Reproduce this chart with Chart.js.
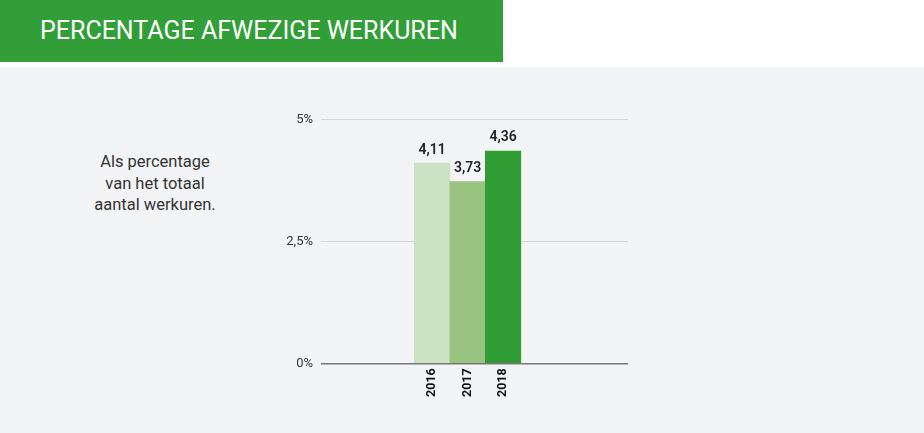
<!DOCTYPE html>
<html>
<head>
<meta charset="utf-8">
<script src="https://cdn.jsdelivr.net/npm/chart.js@4.4.0/dist/chart.umd.min.js"></script>
<style>
  html,body{margin:0;padding:0;}
  body{width:924px;height:433px;background:#f3f4f6;position:relative;overflow:hidden;font-family:Roboto,"Open Sans",sans-serif;}
  .top{position:absolute;left:0;top:0;width:924px;height:67px;background:#fff;}
  .title{position:absolute;left:0;top:0;width:503px;height:62px;background:#329e37;color:#fff;
    font-size:25px;font-weight:400;line-height:62px;box-sizing:border-box;padding-left:40px;letter-spacing:0;}
  .note{position:absolute;left:55px;top:151px;width:200px;text-align:center;color:#333;font-size:16.5px;line-height:21.5px;}
  .wrap{position:absolute;left:255px;top:104px;width:380px;height:298px;}
</style>
</head>
<body>
<div class="top"></div>
<div class="title">PERCENTAGE AFWEZIGE WERKUREN</div>
<div class="note">Als percentage<br>van het totaal<br>aantal werkuren.</div>
<div class="wrap"><canvas id="chart"></canvas></div>
<script>
/* =========================
   Data
========================= */
const years  = ['2016','2017','2018'];
const values = [4.11, 3.73, 4.36];
const colors = ['#cde2c3','#99c47f','#309c34'];
const yTicks = [0, 2.5, 5];

function fmtNum(v){ return String(v).replace('.', ','); }

/* value labels above bars */
const valueLabels = {
  id:'valueLabels',
  afterDatasetsDraw(chart){
    const ctx = chart.ctx;
    const meta = chart.getDatasetMeta(0);
    ctx.save();
    ctx.font = '600 14px Roboto, sans-serif';
    ctx.fillStyle = '#222';
    ctx.textAlign = 'center';
    ctx.textBaseline = 'bottom';
    meta.data.forEach((bar,i)=>{
      ctx.fillText(values[i].toFixed(2).replace('.', ','), bar.x, bar.y - 6);
    });
    ctx.restore();
  }
};

const ctx = document.getElementById('chart').getContext('2d');
new Chart(ctx, {
  type:'bar',
  data:{
    datasets:[{
      data: values.map((v,i)=>({x:i, y:v})),
      backgroundColor: colors,
      borderWidth:0,
      categoryPercentage:1,
      barPercentage:1
    }]
  },
  options:{
    responsive:true,
    maintainAspectRatio:false,
    animation:false,
    layout:{padding:{top:8, right:7, left:0, bottom:0}},
    plugins:{legend:{display:false}, tooltip:{enabled:false}},
    scales:{
      x:{
        type:'linear',
        offset:false,
        min:-3.13, max:5.52,
        grid:{display:false, drawTicks:false},
        border:{display:false},
        afterBuildTicks(s){ s.ticks = years.map((_,i)=>({value:i})); },
        ticks:{
          autoSkip:false, minRotation:90, maxRotation:90, padding:5,
          color:'#111', font:{family:'Roboto', size:12.5, weight:'bold'},
          callback:(v)=> years[v] ?? ''
        }
      },
      y:{
        min:0, max:5,
        afterBuildTicks(s){ s.ticks = yTicks.map(v=>({value:v})); },
        afterFit(s){ s.width = 66; },
        grid:{
          drawTicks:false,
          color:(c)=> c.tick && c.tick.value === 0 ? '#777' : '#d4d6d8',
          lineWidth:(c)=> c.tick && c.tick.value === 0 ? 1.5 : 1
        },
        border:{display:false},
        ticks:{
          padding:8, color:'#333', font:{family:'Roboto', size:13},
          callback:(v)=> fmtNum(v) + '%'
        }
      }
    }
  },
  plugins:[valueLabels]
});
</script>
</body>
</html>
